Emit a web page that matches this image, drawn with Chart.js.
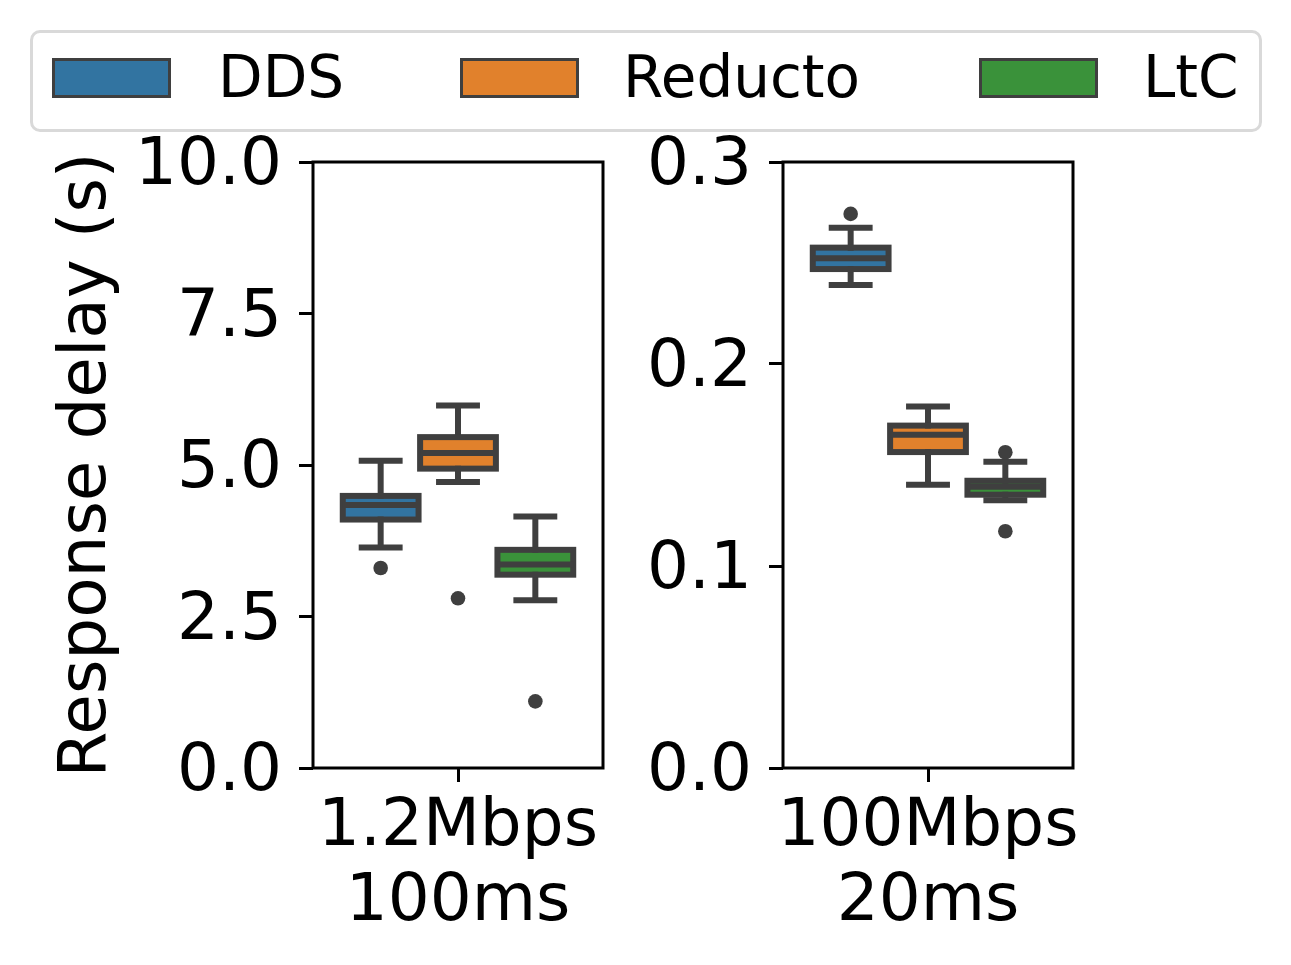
<!DOCTYPE html>
<html>
<head>
<meta charset="utf-8">
<script src="https://cdn.jsdelivr.net/npm/chart.js@4.4.1/dist/chart.umd.min.js"></script>
<style>
  body { margin: 0; background: #fff; font-family: "DejaVu Sans", sans-serif; }
  .panel { position: absolute; }
  #legend { position: absolute; left: 30px; top: 30px; width: 1232px; height: 102px;
            box-sizing: border-box; border: 3px solid #d9d9d9; border-radius: 10px; }
  .patch { position: absolute; top: 58px; width: 119px; height: 40px; box-sizing: border-box;
           border: 3px solid #3f3f3f; }
  .ltext { position: absolute; top: 48px; font-size: 58px; line-height: 58px; color: #000; white-space: nowrap; }
</style>
</head>
<body>
<div id="legend"></div>
<div class="patch" style="left:52px;background:#3274a1"></div><div class="ltext" style="left:218px">DDS</div>
<div class="patch" style="left:460px;background:#e1812c"></div><div class="ltext" style="left:623px">Reducto</div>
<div class="patch" style="left:979px;background:#3a923a"></div><div class="ltext" style="left:1143px">LtC</div>

<div class="panel" style="left:0px;top:130px;width:640px;height:835px"><canvas id="slow"></canvas></div>
<div class="panel" style="left:640px;top:130px;width:651px;height:835px"><canvas id="fast"></canvas></div>

<script>
let methods = ["DDS", "Reducto", "LtC"];
let boxColors = ["#3274a1", "#e1812c", "#3a923a"];

// 1.2Mbps / 100ms
let slowLabel = ["1.2Mbps", "100ms"];
let slowLow = [3.64, 4.72, 2.77];
let slowQ1 = [4.10, 4.94, 3.19];
let slowMed = [4.34, 5.20, 3.36];
let slowQ3 = [4.49, 5.46, 3.60];
let slowHigh = [5.07, 5.98, 4.15];
let slowOut = [[3.30], [2.80], [1.10]];
let slowTicks = [0, 2.5, 5, 7.5, 10];

// 100Mbps / 20ms
let fastLabel = ["100Mbps", "20ms"];
let fastLow = [0.2391, 0.1402, 0.1325];
let fastQ1 = [0.2470, 0.1564, 0.1353];
let fastMed = [0.2523, 0.1650, 0.1392];
let fastQ3 = [0.2576, 0.1695, 0.1422];
let fastHigh = [0.2675, 0.1789, 0.1516];
let fastOut = [[0.2743], [], [0.1563, 0.1172]];
let fastTicks = [0, 0.1, 0.2, 0.3];

const LINE = "#3f3f3f";
const FONT = "DejaVu Sans";
Chart.defaults.font.family = FONT;

// whiskers, outline, median and fliers on top of the floating bars
const boxPlugin = {
  id: "boxes",
  afterDatasetsDraw(chart) {
    const ctx = chart.ctx;
    const y = chart.scales.y;
    ctx.save();
    ctx.strokeStyle = LINE;
    ctx.fillStyle = LINE;
    ctx.lineWidth = 6;
    chart.data.datasets.forEach((ds, i) => {
      const bar = chart.getDatasetMeta(i).data[0];
      const b = ds.box;
      const x = bar.x, w = bar.width;
      const yq1 = y.getPixelForValue(ds.data[0][0]);
      const yq3 = y.getPixelForValue(ds.data[0][1]);
      ctx.lineCap = "square";
      ctx.beginPath();
      ctx.moveTo(x, yq3); ctx.lineTo(x, y.getPixelForValue(b.high));
      ctx.moveTo(x, yq1); ctx.lineTo(x, y.getPixelForValue(b.low));
      [b.high, b.low].forEach(v => {
        const p = y.getPixelForValue(v);
        ctx.moveTo(x - w / 4, p); ctx.lineTo(x + w / 4, p);
      });
      ctx.stroke();
      ctx.lineCap = "butt";
      ctx.strokeRect(x - w / 2, yq3, w, yq1 - yq3);
      const pm = y.getPixelForValue(b.med);
      ctx.beginPath();
      ctx.moveTo(x - w / 2, pm); ctx.lineTo(x + w / 2, pm);
      ctx.stroke();
      b.out.forEach(v => {
        ctx.beginPath();
        ctx.arc(x, y.getPixelForValue(v), 7.3, 0, Math.PI * 2);
        ctx.fill();
      });
    });
    ctx.restore();
  },
  afterDraw(chart) {
    const a = chart.chartArea;
    const ctx = chart.ctx;
    ctx.save();
    ctx.strokeStyle = "#000";
    ctx.lineWidth = 3;
    ctx.strokeRect(a.left, a.top, a.right - a.left, a.bottom - a.top);
    ctx.restore();
  }
};

function makePanel(id, label, low, q1, med, q3, high, out, ticks, yWidth, padRight, showTitle) {
  const datasets = methods.map((m, i) => ({
    label: m,
    data: [[q1[i], q3[i]]],
    backgroundColor: boxColors[i],
    borderWidth: 0,
    categoryPercentage: 0.8,
    barPercentage: 0.98,
    box: { low: low[i], med: med[i], high: high[i], out: out[i] }
  }));
  const grid = {
    display: true, drawOnChartArea: false, drawTicks: true, offset: false,
    tickLength: 14, lineWidth: 3, tickWidth: 3, color: "#000", tickColor: "#000"
  };
  new Chart(id, {
    type: "bar",
    data: { labels: [label], datasets: datasets },
    plugins: [boxPlugin],
    options: {
      responsive: true,
      maintainAspectRatio: false,
      animation: false,
      events: [],
      layout: { padding: { top: 32, right: padRight, bottom: 0, left: 0 } },
      plugins: { legend: { display: false }, tooltip: { enabled: false } },
      scales: {
        x: {
          type: "category",
          offset: true,
          grid: grid,
          border: { display: false },
          ticks: {
            color: "#000", padding: 8, maxRotation: 0, autoSkip: false,
            font: { family: FONT, size: 66, lineHeight: 1.14 }
          },
          afterFit(s) { s.height = 197; s.paddingLeft = 0; s.paddingRight = 0; }
        },
        y: {
          type: "linear",
          min: ticks[0],
          max: ticks[ticks.length - 1],
          grid: grid,
          border: { display: false },
          afterBuildTicks(s) { s.ticks = ticks.map(v => ({ value: v })); },
          ticks: {
            color: "#000", padding: 17, labelOffset: 5,
            font: { family: FONT, size: 66 },
            callback: v => Number(v).toFixed(1)
          },
          title: {
            display: showTitle,
            text: "Response delay (s)",
            color: "#000",
            font: { family: FONT, size: 66, lineHeight: 1.2 },
            padding: { top: 48, bottom: 0 }
          },
          afterFit(s) { s.width = yWidth; s.paddingTop = 0; s.paddingBottom = 0; }
        }
      }
    }
  });
}

makePanel("slow", slowLabel, slowLow, slowQ1, slowMed, slowQ3, slowHigh, slowOut, slowTicks, 313, 37, true);
makePanel("fast", fastLabel, fastLow, fastQ1, fastMed, fastQ3, fastHigh, fastOut, fastTicks, 143, 218, false);
</script>
</body>
</html>
